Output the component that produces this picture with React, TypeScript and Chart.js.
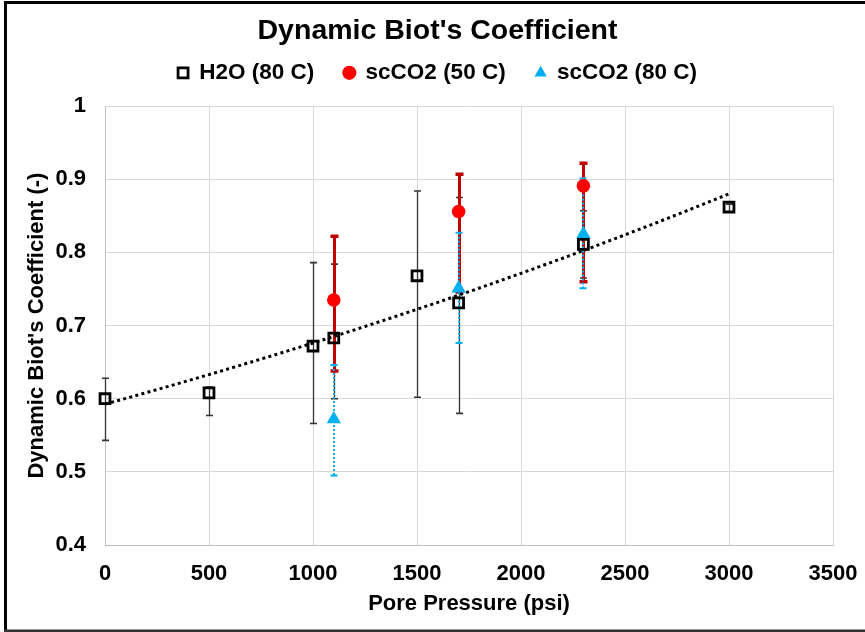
import { useEffect, useRef } from 'react';
import { Chart, registerables, layouts } from 'chart.js';

Chart.register(...registerables);

// ---------- data ----------
const h2oPressure = [0, 500, 1000, 1100, 1500, 1700, 2300, 3000];
const h2oBiot = [0.600, 0.608, 0.672, 0.683, 0.768, 0.731, 0.811, 0.862];
const h2oErrPlus = [0.028, 0.008, 0.114, 0.101, 0.116, 0.144, 0.046, 0.004];
const h2oErrMinus = [0.057, 0.031, 0.106, 0.083, 0.166, 0.151, 0.046, 0.007];

const co2At50Pressure = [1100, 1700, 2300];
const co2At50Biot = [0.735, 0.856, 0.891];
const co2At50ErrPlus = [0.087, 0.051, 0.031];
const co2At50ErrMinus = [0.097, 0.110, 0.131];

const co2At80Pressure = [1100, 1700, 2300];
const co2At80Biot = [0.572, 0.751, 0.825];
const co2At80ErrPlus = [0.074, 0.076, 0.076];
const co2At80ErrMinus = [0.077, 0.075, 0.074];

const seriesLabels = ['H2O (80 C)', 'scCO2 (50 C)', 'scCO2 (80 C)'];
const chartTitle = "Dynamic Biot's Coefficient";
const xTitle = 'Pore Pressure (psi)';
const yTitle = "Dynamic Biot's Coefficient (-)";
const xMin = 0, xMax = 3500, xStep = 500;
const yMin = 0.4, yMax = 1, yStep = 0.1;

// exponential trendline (least squares on ln y), like the spreadsheet trendline
function expFit(xs: number[], ys: number[]) {
  const n = xs.length;
  const ly = ys.map((v) => Math.log(v));
  const mx = xs.reduce((a, b) => a + b, 0) / n;
  const my = ly.reduce((a, b) => a + b, 0) / n;
  let sxx = 0, sxy = 0;
  for (let i = 0; i < n; i++) {
    sxx += (xs[i] - mx) ** 2;
    sxy += (xs[i] - mx) * (ly[i] - my);
  }
  const b = sxy / sxx;
  const a = Math.exp(my - b * mx);
  return { a, b };
}

const FONT = "'Liberation Sans', Arial, sans-serif";

function makeSpacer(position: string, size: number, weight: number): any {
  const horizontal = position === 'top' || position === 'bottom';
  return {
    position,
    weight,
    fullSize: horizontal,
    options: { stackWeight: 1 },
    left: 0, top: 0, right: 0, bottom: 0, width: 0, height: 0,
    update(maxWidth: number, maxHeight: number) {
      if (horizontal) { this.width = maxWidth; this.height = size; }
      else { this.width = size; this.height = maxHeight; }
    },
    isHorizontal() { return horizontal; },
    getPadding() { return { left: 0, top: 0, right: 0, bottom: 0 }; },
    draw() {},
  };
}

export default function App() {
  const ref = useRef<HTMLCanvasElement | null>(null);

  useEffect(() => {
    const canvas = ref.current;
    if (!canvas) return;

    const fit = expFit(h2oPressure, h2oBiot);
    const x0 = h2oPressure[0];
    const x1 = h2oPressure[h2oPressure.length - 1];
    const trend: { x: number; y: number }[] = [];
    for (let x = x0; x <= x1; x += 25) trend.push({ x, y: fit.a * Math.exp(fit.b * x) });

    const toPts = (xs: number[], ys: number[]) => xs.map((x, i) => ({ x, y: ys[i] }));

    const topSpacer = makeSpacer('top', 12, 1);
    const rightSpacer = makeSpacer('right', 29, 1);

    const spacerPlugin = {
      id: 'spacer',
      beforeInit(chart: any) {
        layouts.addBox(chart, topSpacer);
        layouts.addBox(chart, rightSpacer);
      },
    };

    const bgPlugin = {
      id: 'bgFrame',
      beforeDraw(chart: any) {
        const c = chart.ctx;
        c.save();
        c.fillStyle = '#ffffff';
        c.fillRect(0, 0, chart.width, chart.height);
        c.restore();
      },
      afterDraw(chart: any) {
        const c = chart.ctx;
        c.save();
        c.fillStyle = '#000000';
        c.fillRect(4, 1, 3, 631);
        c.fillRect(4, 1, chart.width, 3);
        c.fillStyle = '#333333';
        c.fillRect(4, 629.5, chart.width, 2.5);
        c.restore();
      },
    };

    const errorBarPlugin = {
      id: 'errorBars',
      beforeDatasetsDraw(chart: any) {
        const c = chart.ctx;
        const xs = chart.scales.x;
        const ys = chart.scales.y;
        chart.data.datasets.forEach((ds: any) => {
          const eb = ds.errorBars;
          if (!eb) return;
          c.save();
          ds.data.forEach((pt: any, j: number) => {
            const px = Math.round(xs.getPixelForValue(pt.x)) + (eb.width % 2 ? 0.5 : 0);
            const top = ys.getPixelForValue(pt.y + eb.plus[j]);
            const bot = ys.getPixelForValue(pt.y - eb.minus[j]);
            c.strokeStyle = eb.color;
            c.lineWidth = eb.width;
            c.setLineDash(eb.dash || []);
            c.beginPath();
            c.moveTo(px, top);
            c.lineTo(px, bot);
            c.stroke();
            c.setLineDash([]);
            c.lineWidth = eb.capWidth;
            c.beginPath();
            c.moveTo(px - eb.cap, top);
            c.lineTo(px + eb.cap, top);
            c.moveTo(px - eb.cap, bot);
            c.lineTo(px + eb.cap, bot);
            c.stroke();
          });
          c.restore();
        });
      },
    };

    const chart = new Chart(canvas, {
      type: 'scatter',
      data: {
        datasets: [
          {
            label: seriesLabels[0],
            data: toPts(h2oPressure, h2oBiot),
            pointStyle: 'rect',
            pointRadius: 7,
            pointHoverRadius: 7,
            borderWidth: 2.8,
            borderColor: '#000000',
            backgroundColor: 'rgba(255,255,255,0)',
            clip: false,
            errorBars: { plus: h2oErrPlus, minus: h2oErrMinus, color: '#333333', width: 1.3, capWidth: 1.6, cap: 3.5 },
          } as any,
          {
            label: seriesLabels[1],
            data: toPts(co2At50Pressure, co2At50Biot),
            pointStyle: 'circle',
            pointRadius: 6.8,
            pointHoverRadius: 6.8,
            borderWidth: 0,
            borderColor: '#FF0000',
            backgroundColor: '#FF0000',
            clip: false,
            errorBars: { plus: co2At50ErrPlus, minus: co2At50ErrMinus, color: '#C00000', width: 3, capWidth: 3.5, cap: 4 },
          } as any,
          {
            label: seriesLabels[2],
            data: toPts(co2At80Pressure, co2At80Biot),
            pointStyle: 'triangle',
            pointRadius: 8.3,
            pointHoverRadius: 8.3,
            borderWidth: 0,
            borderColor: '#00B0F0',
            backgroundColor: '#00B0F0',
            clip: false,
            errorBars: { plus: co2At80ErrPlus, minus: co2At80ErrMinus, color: '#00B0F0', width: 2, capWidth: 2, cap: 3.5, dash: [2, 2] },
          } as any,
          {
            label: 'trend',
            data: trend,
            showLine: true,
            pointRadius: 0,
            pointHoverRadius: 0,
            borderColor: '#000000',
            backgroundColor: '#000000',
            borderWidth: 3,
            borderDash: [3, 3.3],
            tension: 0,
          } as any,
        ],
      },
      options: {
        animation: false,
        responsive: false,
        events: [],
        layout: { padding: { left: 13, right: 3, top: 0, bottom: 0 } },
        plugins: {
          tooltip: { enabled: false },
          title: {
            display: true,
            text: chartTitle,
            color: '#000000',
            font: { family: FONT, size: 28.5, weight: 'bold' },
            padding: { top: 14, bottom: -16.6 },
          },
          legend: {
            display: true,
            position: 'top',
            labels: {
              usePointStyle: true,
              boxWidth: 10,
              boxHeight: 10,
              padding: 30,
              color: '#000000',
              font: { family: FONT, size: 22.5, weight: 'bold' },
              filter: (item: any) => item.datasetIndex < 3,
            },
          },
        },
        scales: {
          x: {
            type: 'linear',
            min: xMin,
            max: xMax,
            ticks: {
              stepSize: xStep,
              color: '#000000',
              padding: 16,
              font: { family: FONT, size: 22, weight: 'bold' },
              callback: (v: any) => String(Math.round(Number(v))),
            },
            grid: { color: '#D9D9D9', lineWidth: 1, drawTicks: false },
            border: { color: '#BFBFBF', width: 1 },
            title: {
              display: true,
              text: xTitle,
              color: '#000000',
              font: { family: FONT, size: 22, weight: 'bold' },
              padding: { top: 0, bottom: 14.8 },
            },
            afterFit: (scale: any) => {
              scale.height = 87;
              scale.paddingRight = 20;
              scale.paddingLeft = 0;
            },
          },
          y: {
            type: 'linear',
            min: yMin,
            max: yMax,
            ticks: {
              stepSize: yStep,
              color: '#000000',
              padding: 19,
              font: { family: FONT, size: 22, weight: 'bold' },
              callback: (v: any) => String(Math.round(Number(v) * 10) / 10),
            },
            grid: { color: '#D9D9D9', lineWidth: 1, drawTicks: false },
            border: { color: '#BFBFBF', width: 1 },
            title: {
              display: true,
              text: yTitle,
              color: '#000000',
              font: { family: FONT, size: 22, weight: 'bold' },
              padding: { top: 10.8, bottom: 0 },
            },
            afterFit: (scale: any) => { scale.width = 92; },
          },
        },
      } as any,
      plugins: [spacerPlugin, bgPlugin, errorBarPlugin],
    });

    return () => chart.destroy();
  }, []);

  return (
    <div style={{ position: 'fixed', left: 0, top: 0, width: 865, height: 632, background: '#fff' }}>
      <canvas ref={ref} width={865} height={632} style={{ display: 'block', width: 865, height: 632 }} />
    </div>
  );
}
